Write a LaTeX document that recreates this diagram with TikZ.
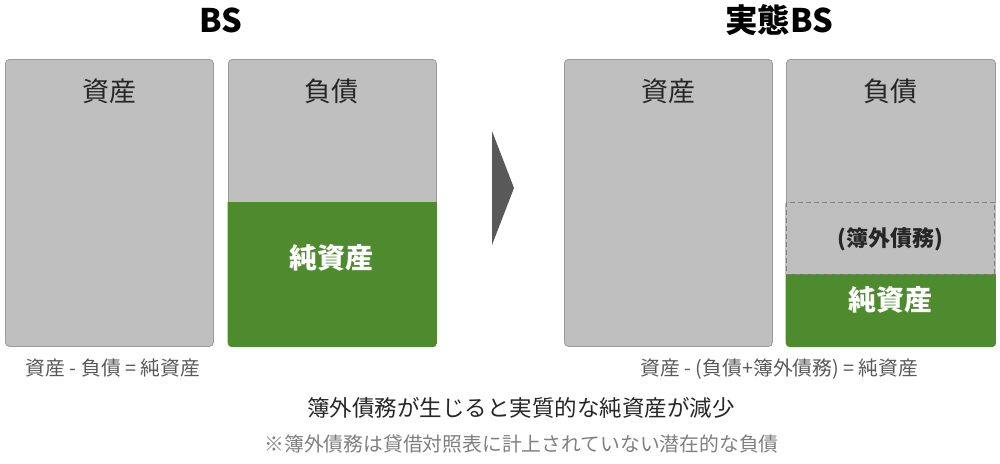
\documentclass[tikz,border=0pt]{standalone}
\usepackage{fontspec}
\setmainfont{Noto Sans CJK JP}
\definecolor{boxgray}{HTML}{BFBFBF}
\definecolor{boxline}{HTML}{9A9A9A}
\definecolor{netgreen}{HTML}{4E8A2E}
\definecolor{arrowgray}{HTML}{595959}
\definecolor{textdark}{HTML}{262626}
\definecolor{formulagray}{HTML}{595959}
\definecolor{notegray}{HTML}{7F7F7F}
\begin{document}
\begin{tikzpicture}[x=1pt,y=-1pt,
  col/.style={draw=boxline,line width=0.8pt,fill=boxgray,rounded corners=4pt,
    minimum width=208pt,minimum height=287pt,inner sep=0pt,anchor=north west},
  title/.style={anchor=base,inner sep=0pt,font=\fontsize{32.5}{38}\selectfont\bfseries,text=black},
  head/.style={anchor=base,inner sep=0pt,font=\fontsize{27}{32}\selectfont,text=textdark},
  netlabel/.style={anchor=base,inner sep=0pt,font=\fontsize{28}{34}\selectfont\bfseries,text=white},
  offlabel/.style={anchor=base,inner sep=0pt,font=\fontsize{22}{28}\selectfont\bfseries,text=textdark},
  formula/.style={anchor=base,inner sep=0pt,font=\fontsize{19.8}{24}\selectfont,text=formulagray},
  mainnote/.style={anchor=base,inner sep=0pt,font=\fontsize{22.5}{28}\selectfont,text=textdark},
  subnote/.style={anchor=base,inner sep=0pt,font=\fontsize{19.8}{24}\selectfont,text=notegray},
  offbox/.style={draw=notegray,line width=0.9pt,dash pattern=on 5pt off 3pt}
]
\useasboundingbox (0,0) rectangle (1000,463);
% titles
\node[title] (t1) at (221,32) {BS};
\node[title] (t2) at (779,32) {実態BS};
% columns
\node[col] (a1) at (5,59) {};
\node[col] (l1) at (228,59) {};
\node[col] (a2) at (564,59) {};
\node[col,minimum width=209pt] (l2) at (786,59) {};
% green parts
\begin{scope}
  \clip[rounded corners=4.4pt] ([shift={(-0.4pt,0.4pt)}]l1.north west) rectangle ([shift={(0.4pt,-0.4pt)}]l1.south east);
  \fill[netgreen] (227,202) rectangle (437,348);
\end{scope}
\begin{scope}
  \clip[rounded corners=4.4pt] ([shift={(-0.4pt,0.4pt)}]l2.north west) rectangle ([shift={(0.4pt,-0.4pt)}]l2.south east);
  \fill[netgreen] (785,274) rectangle (997,348);
\end{scope}
\fill[boxgray] (785.4,202.5) rectangle (995.6,273.5);
\draw[offbox] (786.5,202) rectangle (994.5,274);
% headers
\node[head] (h1) at (109,101) {資産};
\node[head] (h2) at (331.5,101) {負債};
\node[head] (h3) at (668,101) {資産};
\node[head] (h4) at (890.5,101) {負債};
% labels
\node[netlabel] (n1) at (331.5,268) {純資産};
\node[offlabel] (o2) at (890.5,246) {(簿外債務)};
\node[netlabel] (n2) at (890.5,310) {純資産};
% arrow
\fill[arrowgray] (492,131) -- (514,188) -- (492,245) -- cycle;
% formulas
\node[formula] (f1) at (113,375) {資産 - 負債 = 純資産};
\node[formula] (f2) at (779.5,375) {資産 - (負債+簿外債務) = 純資産};
% notes
\node[mainnote] (m1) at (521,416) {簿外債務が生じると実質的な純資産が減少};
\node[subnote] (m2) at (521.5,451) {※簿外債務は貸借対照表に計上されていない潜在的な負債};
\end{tikzpicture}
\end{document}
